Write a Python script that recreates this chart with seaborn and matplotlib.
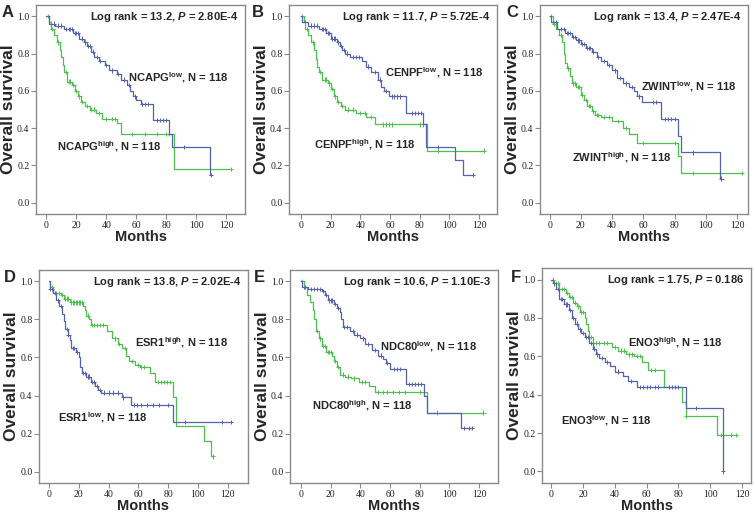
import numpy as np
import pandas as pd
import matplotlib
matplotlib.use("Agg")
import matplotlib.pyplot as plt
import seaborn as sns
from matplotlib import font_manager

# ---------------- data ----------------
GENES = ["NCAPG", "CENPF", "ZWINT", "ESR1", "NDC80", "ENO3"]
LETTERS = ["A", "B", "C", "D", "E", "F"]
LOGRANK = ["13.2", "11.7", "13.4", "13.8", "10.6", "1.75"]
PVALS = ["2.80E-4", "5.72E-4", "2.47E-4", "2.02E-4", "1.10E-3", "0.186"]
N_LOW = [118, 118, 118, 118, 118, 118]
N_HIGH = [118, 118, 118, 118, 118, 118]

A_low_t = [0, 2, 6, 12, 18, 22, 25, 27, 30, 32, 35, 39, 42, 47, 50, 54, 56, 58, 60, 63, 71, 82, 84, 109]
A_low_s = [1.0, 0.96, 0.95, 0.93, 0.91, 0.88, 0.86, 0.84, 0.81, 0.78, 0.76, 0.74, 0.71, 0.69, 0.66, 0.63, 0.60, 0.57, 0.55, 0.53, 0.445, 0.37, 0.30, 0.15]
A_low_c = [3, 5, 8, 10, 13, 15, 16, 17, 19, 20, 21, 24, 26, 28, 29, 31, 34, 36, 40, 44, 48, 52, 55, 59, 64, 66, 68, 74, 76, 78, 80, 92, 110]
A_high_t = [0, 2, 3, 5, 7, 9, 10, 11, 12, 14, 17, 19, 21, 23, 26, 29, 33, 37, 47, 50, 85]
A_high_s = [1.0, 0.97, 0.93, 0.90, 0.86, 0.82, 0.78, 0.74, 0.70, 0.65, 0.63, 0.60, 0.57, 0.54, 0.52, 0.50, 0.48, 0.45, 0.43, 0.37, 0.18]
A_high_c = [1, 4, 8, 13, 15, 16, 18, 20, 22, 24, 27, 30, 32, 35, 40, 44, 46, 57, 66, 74, 80, 82, 123]

B_low_t = [0, 1, 5, 12, 17, 20, 24, 26, 28, 30, 33, 41, 44, 47, 52, 54, 56, 59, 71, 82, 84, 104, 109]
B_low_s = [1.0, 0.97, 0.95, 0.93, 0.91, 0.88, 0.86, 0.84, 0.82, 0.80, 0.78, 0.76, 0.73, 0.70, 0.66, 0.62, 0.60, 0.57, 0.48, 0.42, 0.30, 0.23, 0.15]
B_low_c = [3, 7, 9, 11, 14, 15, 16, 18, 19, 21, 22, 23, 25, 27, 29, 31, 35, 37, 39, 45, 50, 53, 57, 61, 63, 65, 67, 75, 77, 79, 81, 92, 116]
B_high_t = [0, 2, 3, 5, 7, 9, 10, 11, 12, 14, 18, 20, 22, 24, 27, 30, 37, 44, 50, 85]
B_high_s = [1.0, 0.97, 0.93, 0.90, 0.86, 0.82, 0.77, 0.73, 0.70, 0.66, 0.64, 0.61, 0.57, 0.54, 0.52, 0.50, 0.48, 0.46, 0.42, 0.28]
B_high_c = [1, 4, 8, 13, 16, 17, 19, 21, 23, 25, 28, 32, 35, 40, 43, 47, 55, 57, 59, 61, 80, 82, 92, 123]

C_low_t = [0, 1, 5, 10, 14, 17, 20, 23, 27, 30, 33, 37, 40, 43, 47, 51, 54, 56, 59, 71, 82, 84, 109]
C_low_s = [1.0, 0.97, 0.93, 0.91, 0.89, 0.87, 0.85, 0.83, 0.81, 0.78, 0.76, 0.74, 0.71, 0.67, 0.64, 0.62, 0.60, 0.57, 0.54, 0.45, 0.36, 0.27, 0.13]
C_low_c = [2, 4, 7, 9, 11, 12, 13, 15, 16, 18, 19, 21, 22, 24, 25, 26, 28, 31, 35, 38, 42, 45, 49, 53, 57, 66, 68, 74, 76, 78, 80, 92, 110]
C_high_t = [0, 2, 4, 6, 8, 9, 10, 11, 13, 14, 17, 20, 22, 24, 27, 29, 33, 40, 47, 51, 56, 82, 84]
C_high_s = [1.0, 0.96, 0.93, 0.90, 0.86, 0.80, 0.75, 0.72, 0.68, 0.64, 0.62, 0.58, 0.55, 0.52, 0.49, 0.47, 0.46, 0.44, 0.40, 0.37, 0.32, 0.25, 0.16]
C_high_c = [1, 3, 7, 12, 15, 16, 18, 19, 21, 23, 25, 26, 28, 30, 31, 35, 38, 44, 49, 60, 80, 92, 123]

D_low_t = [0, 1, 3, 5, 7, 9, 10, 11, 13, 14, 15, 18, 20, 21, 22, 25, 28, 31, 33, 35, 49, 55, 83]
D_low_s = [1.0, 0.96, 0.94, 0.90, 0.87, 0.83, 0.79, 0.75, 0.72, 0.69, 0.65, 0.63, 0.60, 0.55, 0.52, 0.50, 0.47, 0.45, 0.43, 0.415, 0.39, 0.35, 0.26]
D_low_c = [1, 2, 4, 6, 8, 12, 13, 16, 17, 19, 23, 24, 26, 27, 29, 30, 32, 34, 37, 40, 43, 46, 50, 57, 59, 62, 66, 70, 74, 80, 91, 116, 122]
D_high_t = [0, 1, 3, 8, 10, 14, 23, 24, 25, 27, 28, 39, 42, 46, 49, 52, 54, 58, 61, 68, 71, 83, 85, 104, 109]
D_high_s = [1.0, 0.97, 0.94, 0.93, 0.91, 0.89, 0.87, 0.85, 0.82, 0.80, 0.77, 0.74, 0.70, 0.67, 0.65, 0.61, 0.58, 0.56, 0.55, 0.52, 0.47, 0.39, 0.24, 0.16, 0.08]
D_high_c = [2, 5, 7, 9, 11, 12, 13, 15, 16, 17, 18, 19, 20, 21, 22, 26, 29, 30, 32, 34, 36, 44, 47, 51, 56, 60, 62, 64, 73, 75, 77, 79, 81, 110]

E_low_t = [0, 1, 5, 14, 16, 18, 22, 24, 26, 27, 28, 33, 36, 40, 43, 48, 52, 55, 57, 60, 71, 83, 85, 108]
E_low_s = [1.0, 0.97, 0.96, 0.95, 0.93, 0.90, 0.88, 0.86, 0.84, 0.80, 0.76, 0.74, 0.72, 0.70, 0.67, 0.64, 0.61, 0.59, 0.57, 0.54, 0.46, 0.40, 0.31, 0.23]
E_low_c = [2, 3, 7, 9, 11, 13, 15, 17, 19, 20, 21, 23, 25, 29, 31, 35, 38, 42, 45, 50, 54, 58, 63, 65, 67, 73, 75, 77, 79, 81, 110, 113, 115]
E_high_t = [0, 2, 4, 6, 8, 9, 10, 12, 14, 17, 21, 22, 24, 26, 30, 34, 39, 46, 50, 85]
E_high_s = [1.0, 0.97, 0.93, 0.89, 0.85, 0.80, 0.74, 0.70, 0.66, 0.63, 0.61, 0.58, 0.55, 0.51, 0.50, 0.49, 0.47, 0.45, 0.42, 0.31]
E_high_c = [1, 3, 11, 13, 15, 16, 18, 19, 20, 23, 25, 28, 32, 36, 41, 43, 52, 55, 58, 62, 66, 70, 80, 92, 123]

F_low_t = [0, 1, 3, 5, 8, 11, 13, 15, 17, 19, 21, 24, 26, 28, 30, 34, 37, 40, 45, 48, 54, 85, 108]
F_low_s = [1.0, 0.98, 0.95, 0.90, 0.87, 0.84, 0.80, 0.77, 0.74, 0.72, 0.70, 0.67, 0.64, 0.61, 0.59, 0.57, 0.55, 0.52, 0.50, 0.47, 0.44, 0.33, 0.0]
F_low_c = [2, 4, 6, 7, 9, 10, 12, 14, 16, 18, 20, 22, 23, 25, 27, 29, 32, 35, 42, 50, 56, 58, 60, 62, 65, 67, 74, 76, 78, 80, 91, 108]
F_high_t = [0, 2, 5, 9, 11, 14, 16, 18, 21, 22, 23, 24, 26, 38, 42, 47, 52, 57, 61, 71, 82, 85, 104]
F_high_s = [1.0, 0.98, 0.95, 0.93, 0.91, 0.88, 0.86, 0.83, 0.80, 0.77, 0.73, 0.70, 0.67, 0.65, 0.63, 0.61, 0.60, 0.57, 0.53, 0.44, 0.36, 0.29, 0.19]
F_high_c = [1, 3, 4, 7, 8, 10, 12, 13, 15, 17, 19, 20, 25, 28, 30, 33, 35, 40, 44, 46, 49, 51, 54, 56, 63, 65, 85, 107, 113, 116]

CURVES = [
    (A_low_t, A_low_s, A_low_c, A_high_t, A_high_s, A_high_c),
    (B_low_t, B_low_s, B_low_c, B_high_t, B_high_s, B_high_c),
    (C_low_t, C_low_s, C_low_c, C_high_t, C_high_s, C_high_c),
    (D_low_t, D_low_s, D_low_c, D_high_t, D_high_s, D_high_c),
    (E_low_t, E_low_s, E_low_c, E_high_t, E_high_s, E_high_c),
    (F_low_t, F_low_s, F_low_c, F_high_t, F_high_s, F_high_c),
]

# ---------------- style ----------------
sns.set_theme(style="white")
plt.rcParams["font.family"] = ["Liberation Sans", "DejaVu Sans"]
plt.rcParams["mathtext.fontset"] = "custom"
plt.rcParams["mathtext.rm"] = "Liberation Sans:bold"
plt.rcParams["mathtext.bf"] = "Liberation Sans:bold"
plt.rcParams["mathtext.it"] = "Liberation Sans:bold:italic"
plt.rcParams["mathtext.sf"] = "Liberation Sans:bold"

BLUE = "#5562ae"
GREEN = "#4fbf4f"
FRAME = "#8a8a8a"

# Months font: narrow if available
try:
    font_manager.findfont(font_manager.FontProperties(family="Liberation Sans Narrow"),
                          fallback_to_default=False)
    MONTHS_KW = dict(family="Liberation Sans Narrow", fontsize=12.5, fontweight="bold")
except Exception:
    MONTHS_KW = dict(family="Liberation Sans", fontsize=10.5, fontweight="bold")

W, H = 755, 512
fig = plt.figure(figsize=(W / 100, H / 100), dpi=100)

# axes frames in pixels: (left, right, top, bottom)
FRAMES = [(36, 245, 5, 214), (289, 497, 5, 214), (540, 748, 5, 214),
          (39, 248, 270, 483), (290, 498, 270, 483), (542, 751, 268, 483)]
XLIMS = [(-7, 132.5), (-8, 132), (-6.2, 127), (-6.7, 133.6), (-7.4, 132.8), (-5.8, 125.6)]
LETTER_POS = [(2, 17), (252, 17), (506, 17), (4, 282), (254, 282), (511, 282)]
# (group, x, y) of upper/lower labels in data coords
UPPER = [("low", 54.4, 0.672), ("low", 56.7, 0.70), ("low", 58.4, 0.625),
         ("high", 57.6, 0.676), ("low", 53.2, 0.655), ("high", 48.0, 0.67)]
LOWER = [("high", 6.7, 0.30), ("high", 8.5, 0.31), ("high", 14.6, 0.244),
         ("low", 6.1, 0.283), ("high", 7.2, 0.345), ("low", 6.1, 0.265)]


def step_df(t, s, c, group):
    end = max(max(c), max(t))
    tt = list(t) + [end]
    ss = list(s) + [s[-1]]
    line = pd.DataFrame({"t": tt, "s": ss, "group": group})
    idx = np.searchsorted(np.asarray(t), np.asarray(c), side="right") - 1
    cens = pd.DataFrame({"t": c, "s": np.asarray(s)[idx], "group": group})
    return line, cens


for i in range(6):
    l, r, tp, bt = FRAMES[i]
    ax = fig.add_axes([l / W, 1 - bt / H, (r - l) / W, (bt - tp) / H])
    lt, ls, lc, ht, hs, hc = CURVES[i]
    low_line, low_c = step_df(lt, ls, lc, "low")
    high_line, high_c = step_df(ht, hs, hc, "high")
    lines = pd.concat([high_line, low_line], ignore_index=True)
    cens = pd.concat([high_c, low_c], ignore_index=True)
    pal = {"low": BLUE, "high": GREEN}
    sns.lineplot(data=lines, x="t", y="s", hue="group", palette=pal, ax=ax,
                 estimator=None, sort=False, drawstyle="steps-post",
                 linewidth=0.9, legend=False)
    sns.scatterplot(data=cens, x="t", y="s", hue="group", palette=pal, ax=ax,
                    marker="+", s=10, linewidth=0.7, legend=False)
    ax.set_xlim(*XLIMS[i])
    ax.set_ylim(-0.06, 1.06)
    ax.set_xticks([0, 20, 40, 60, 80, 100, 120])
    ax.set_yticks([0.0, 0.2, 0.4, 0.6, 0.8, 1.0])
    ax.set_yticklabels(["0.0", "0.2", "0.4", "0.6", "0.8", "1.0"])
    for sp in ax.spines.values():
        sp.set_visible(True)
        sp.set_color(FRAME)
        sp.set_linewidth(1.0)
    ax.tick_params(axis="both", which="both", direction="out", length=3.5,
                   width=0.8, color=FRAME, labelsize=7, pad=1.2,
                   labelcolor="#222222",
                   left=True, bottom=True, top=False, right=False)
    for lab in ax.get_xticklabels() + ax.get_yticklabels():
        lab.set_family("Liberation Serif")
    ax.set_xlabel("Months", labelpad=0, **MONTHS_KW)
    ax.set_ylabel("Overall survival", fontsize=12.5, fontweight="bold", labelpad=1)
    g = GENES[i]
    ax.text(0.967, 0.942, f"Log rank = {LOGRANK[i]}, $\\it{{P}}$ = {PVALS[i]}",
            transform=ax.transAxes, ha="right", va="center", fontsize=8,
            fontweight="bold")
    for grp, x, y in (UPPER[i], LOWER[i]):
        n = N_LOW[i] if grp == "low" else N_HIGH[i]
        ax.text(x, y, f"{g}$^{{\\mathrm{{{grp}}}}}$, N = {n}", ha="left", va="center",
                fontsize=8, fontweight="bold")
    lx, ly = LETTER_POS[i]
    fig.text(lx / W, 1 - ly / H, LETTERS[i], fontsize=12, fontweight="bold",
             ha="left", va="baseline")

fig.savefig("out.png", dpi=100)
